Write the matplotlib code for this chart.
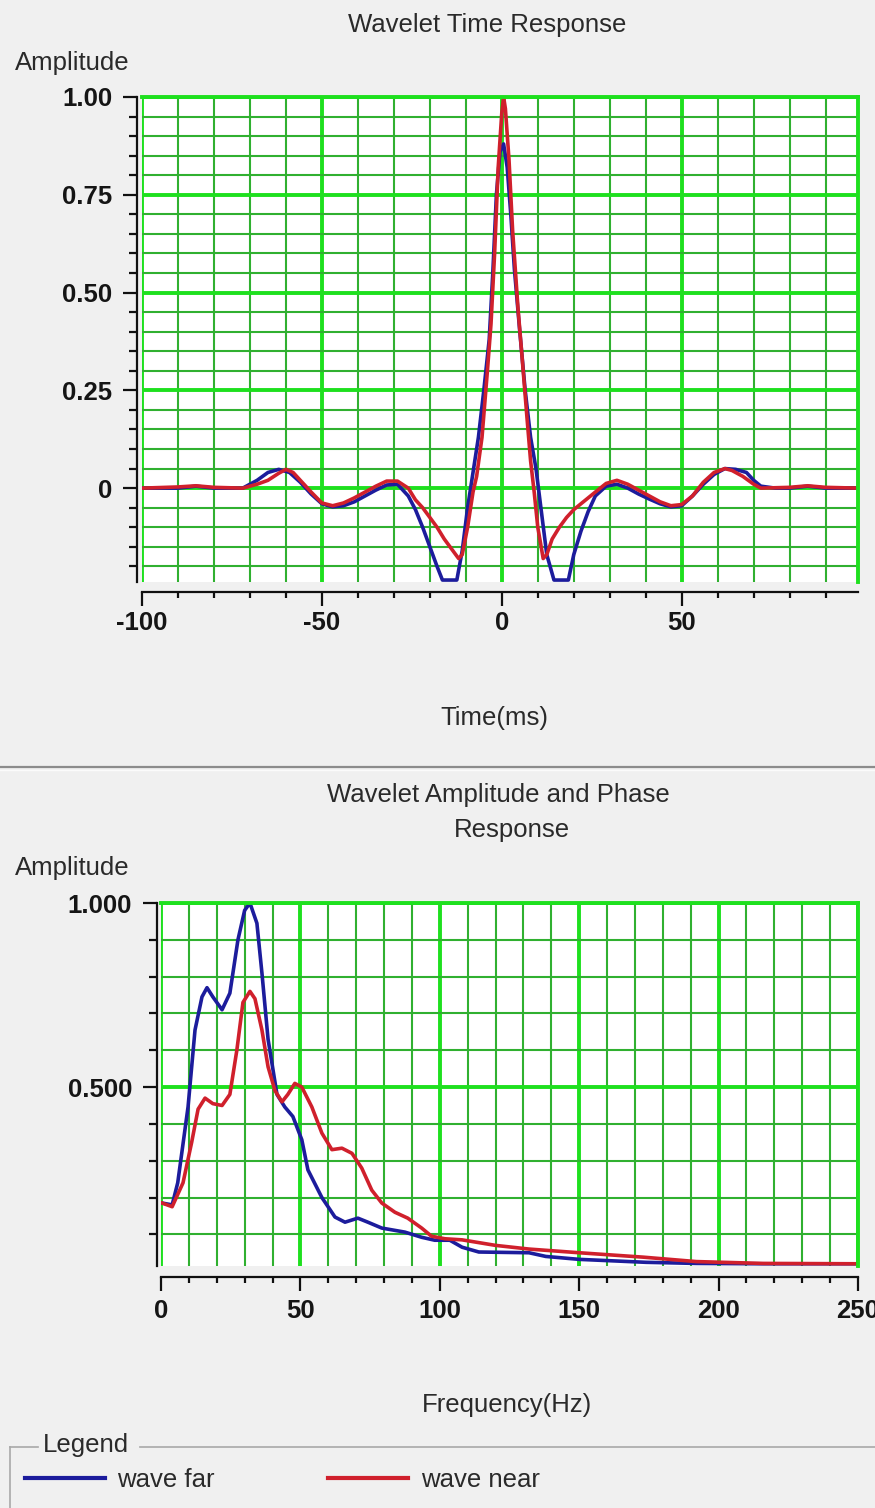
import matplotlib
matplotlib.use('Agg')
from matplotlib import pyplot as plt
from matplotlib.lines import Line2D
from matplotlib.ticker import MultipleLocator, FixedLocator, FixedFormatter

#<editor-fold desc="Data">
# Wavelet time response (ms, amplitude)
farTime = [-100, -90, -85, -80, -72, -68, -65, -62, -59, -56, -53, -50, -47, -44, -41, -38,
           -35, -32, -29, -26, -24, -22, -20, -18, -16.5, -14.5, -12.5, -11, -9.5, -8, -6.5,
           -5, -3.5, -2.5, -1.5, -0.5, 0.5, 1.5, 2.5, 3.5, 5, 6.5, 8, 9.5, 11, 12.5, 14.5,
           16.5, 18.5, 20, 22, 24, 26, 29, 32, 35, 38, 41, 44, 47, 50, 53, 56, 59, 62, 65,
           68, 70, 72, 76, 80, 85, 90, 99]
farAmp = [0.0, 0.0, 0.005, 0.0, 0.0, 0.02, 0.04, 0.048, 0.04, 0.015, -0.015, -0.04, -0.048,
          -0.045, -0.035, -0.02, -0.005, 0.008, 0.01, -0.02, -0.055, -0.1, -0.15, -0.2,
          -0.235, -0.235, -0.235, -0.16, -0.05, 0.04, 0.13, 0.25, 0.38, 0.55, 0.75, 0.86, 0.88,
          0.82, 0.7, 0.56, 0.40, 0.25, 0.13, 0.05, -0.06, -0.17, -0.235, -0.235, -0.235, -0.17,
          -0.11, -0.06, -0.02, 0.005, 0.01, 0.0, -0.015, -0.028, -0.04, -0.048, -0.045,
          -0.02, 0.01, 0.035, 0.05, 0.048, 0.04, 0.02, 0.005, 0.0, 0.0, 0.005, 0.0, 0.0]

nearTime = [-100, -90, -85, -80, -72, -68, -65, -62, -60, -58, -56, -53, -50, -47, -44, -41,
            -38, -35, -32, -29, -26, -24, -22, -20, -18, -16, -14, -12, -11, -9.5, -8, -7,
            -5.5, -4, -3, -2, -1, 0, 0.5, 1, 2, 3, 4.5, 5.5, 7, 8, 9, 10, 11.5, 12.5, 14, 16,
            18, 20, 22, 24, 26, 29, 32, 35, 38, 41, 44, 47, 50, 53, 56, 59, 62, 64, 67, 70,
            72, 80, 85, 90, 99]
nearAmp = [0.0, 0.003, 0.006, 0.002, 0.0, 0.01, 0.02, 0.038, 0.048, 0.04, 0.02, -0.01,
           -0.038, -0.045, -0.038, -0.025, -0.01, 0.005, 0.018, 0.018, 0.0, -0.03, -0.05,
           -0.075, -0.1, -0.13, -0.155, -0.18, -0.17, -0.1, -0.01, 0.03, 0.13, 0.3, 0.42,
           0.6, 0.82, 0.96, 1.0, 0.97, 0.84, 0.66, 0.46, 0.35, 0.18, 0.07, -0.01, -0.1,
           -0.18, -0.17, -0.13, -0.1, -0.075, -0.055, -0.04, -0.025, -0.01, 0.012, 0.02,
           0.01, -0.005, -0.02, -0.035, -0.045, -0.042, -0.02, 0.015, 0.04, 0.05, 0.045,
           0.03, 0.01, 0.0, 0.002, 0.006, 0.002, 0.0]

# Amplitude spectrum (Hz, amplitude)
freqFar = [0.4, 4, 6, 9.7, 12.2, 14.7, 16.5, 18.6, 21.9, 24.7, 27.6, 30, 31.9, 34.4, 36.2,
           38.4, 41.6, 44.4, 47.3, 50.5, 52.7, 57.7, 62.4, 66, 70.6, 74.2, 79.2, 87.5, 93.5,
           98.2, 103.6, 108, 114, 132, 138, 150, 174, 192, 216, 250]
specFar = [0.185, 0.18, 0.24, 0.446, 0.655, 0.745, 0.77, 0.745, 0.71, 0.755, 0.9, 0.98,
           1.0, 0.945, 0.81, 0.63, 0.48, 0.446, 0.42, 0.357, 0.275, 0.2, 0.147, 0.133,
           0.144, 0.133, 0.117, 0.106, 0.092, 0.084, 0.084, 0.065, 0.052, 0.05, 0.04, 0.032,
           0.024, 0.021, 0.02, 0.02]

freqNear = [0.4, 4, 7.9, 11, 13.3, 15.8, 18.6, 21.9, 24.7, 27.2, 29.4, 31.9, 33.7, 36.2,
            38.4, 40.9, 43.4, 45.5, 48, 50.5, 54.1, 57.7, 61.3, 64.9, 68.5, 72, 75.6, 79.2,
            83.9, 88.5, 93.5, 97, 101.8, 108, 120, 132, 150, 173, 192, 216, 250]
specNear = [0.185, 0.175, 0.24, 0.35, 0.44, 0.47, 0.455, 0.45, 0.48, 0.6, 0.73, 0.76, 0.74,
            0.655, 0.555, 0.49, 0.46, 0.48, 0.51, 0.5, 0.446, 0.375, 0.33, 0.334, 0.32,
            0.28, 0.22, 0.185, 0.16, 0.144, 0.117, 0.095, 0.088, 0.085, 0.07, 0.06, 0.05,
            0.038, 0.026, 0.021, 0.02]

timeTicks = [-100, -50, 0, 50]
timeTickLabels = ['-100', '-50', '0', '50']
ampTicks = [0, 0.25, 0.5, 0.75, 1.0]
ampTickLabels = ['0', '0.25', '0.50', '0.75', '1.00']
freqTicks = [0, 50, 100, 150, 200, 250]
freqTickLabels = ['0', '50', '100', '150', '200', '250']
specTicks = [0.5, 1.0]
specTickLabels = ['0.500', '1.000']
#</editor-fold>

#<editor-fold desc="Set Up's">
W, H = 875, 1508
BG = '#f0f0f0'
BLUE = '#1c1c9c'
RED = '#d0202c'
GRID_MAJOR = '#1ee01e'
GRID_MINOR = '#30b030'
FS = 18.5
LW = 2.6

plt.rcParams['font.family'] = ['Liberation Sans', 'DejaVu Sans']
plt.rcParams['figure.facecolor'] = BG


def fx(x):
    return x / W


def fy(y):
    return 1 - y / H


def styleAxes(ax, xTicks, xLabels, xMinor, yTicks, yLabels, yMinor, leftOff, botOff):
    ax.set_facecolor('white')
    ax.set_axisbelow(True)
    ax.xaxis.set_major_locator(FixedLocator(xTicks))
    ax.xaxis.set_major_formatter(FixedFormatter(xLabels))
    ax.xaxis.set_minor_locator(MultipleLocator(xMinor))
    ax.yaxis.set_major_locator(FixedLocator(yTicks))
    ax.yaxis.set_major_formatter(FixedFormatter(yLabels))
    ax.yaxis.set_minor_locator(MultipleLocator(yMinor))
    ax.grid(which='minor', color=GRID_MINOR, linewidth=1.5)
    ax.grid(which='major', color=GRID_MAJOR, linewidth=2.8)
    ax.spines['left'].set_position(('outward', leftOff))
    ax.spines['bottom'].set_position(('outward', botOff))
    for s in ['left', 'bottom']:
        ax.spines[s].set_linewidth(1.6)
        ax.spines[s].set_color('#101010')
    for s in ['top', 'right']:
        ax.spines[s].set_color(GRID_MAJOR)
        ax.spines[s].set_linewidth(2.8)
    ax.tick_params(axis='both', which='both', direction='out', color='#101010', width=1.6,
                   labelsize=FS, labelcolor='#151515')
    ax.tick_params(axis='x', which='major', length=10, pad=4)
    ax.tick_params(axis='x', which='minor', length=4)
    ax.tick_params(axis='y', which='major', length=10, pad=8)
    ax.tick_params(axis='y', which='minor', length=5.5)
    for lab in ax.get_xticklabels() + ax.get_yticklabels():
        lab.set_fontweight('bold')
#</editor-fold>

fig = plt.figure(figsize=(W / 100, H / 100), dpi=100)

# Top plot: time response
ax1 = fig.add_axes([fx(142), fy(582), fx(716), 485 / H])
ax1.plot(farTime, farAmp, color=BLUE, linewidth=LW, label='wave far')
ax1.plot(nearTime, nearAmp, color=RED, linewidth=LW, label='wave near')
ax1.set_xlim(-100, 99)
ax1.set_ylim(-0.24, 1.0)
styleAxes(ax1, timeTicks, timeTickLabels, 10, ampTicks, ampTickLabels, 0.05, 3.6, 7.2)

# Bottom plot: amplitude spectrum
ax2 = fig.add_axes([fx(161), fy(1266), fx(697), 363 / H])
ax2.plot(freqFar, specFar, color=BLUE, linewidth=LW)
ax2.plot(freqNear, specNear, color=RED, linewidth=LW)
ax2.set_xlim(0, 250)
ax2.set_ylim(0.014, 1.0)
styleAxes(ax2, freqTicks, freqTickLabels, 10, specTicks, specTickLabels, 0.1, 2.9, 7.9)
ax2.tick_params(axis='x', which='major', pad=6)

# Texts
txt = dict(fontsize=FS, color='#2a2a2a', va='center')
fig.text(fx(487), fy(25), 'Wavelet Time Response', ha='center', **txt)
fig.text(fx(15), fy(63), 'Amplitude', ha='left', **txt)
fig.text(fx(494), fy(718), 'Time(ms)', ha='center', **txt)
fig.text(fx(498), fy(795), 'Wavelet Amplitude and Phase', ha='center', **txt)
fig.text(fx(512), fy(830), 'Response', ha='center', **txt)
fig.text(fx(15), fy(868), 'Amplitude', ha='left', **txt)
fig.text(fx(507), fy(1405), 'Frequency(Hz)', ha='center', **txt)

# Panel separator
fig.add_artist(Line2D([0, 1], [fy(767), fy(767)], transform=fig.transFigure,
                      color='#8c8c8c', linewidth=1.6))
fig.add_artist(Line2D([0, 1], [fy(769.5), fy(769.5)], transform=fig.transFigure,
                      color='#fbfbfb', linewidth=1.0))

# Legend group box
boxColor = '#a8a8a8'
fig.add_artist(Line2D([fx(10), fx(38)], [fy(1447), fy(1447)], transform=fig.transFigure,
                      color=boxColor, linewidth=1.2))
fig.add_artist(Line2D([fx(140), 1], [fy(1447), fy(1447)], transform=fig.transFigure,
                      color=boxColor, linewidth=1.2))
fig.add_artist(Line2D([fx(10), fx(10)], [fy(1447), 0], transform=fig.transFigure,
                      color=boxColor, linewidth=1.2))
fig.text(fx(43), fy(1445), 'Legend', ha='left', **txt)

handles, labels = ax1.get_legend_handles_labels()
fig.legend(handles, labels, loc='center left', bbox_to_anchor=(fx(25), fy(1480)),
           ncol=2, frameon=False, fontsize=FS, handlelength=3.1, handletextpad=0.5,
           columnspacing=4.4, borderpad=0, borderaxespad=0, labelcolor='#2a2a2a')
for line in fig.legends[0].get_lines():
    line.set_linewidth(3.0)

fig.savefig('out.png', dpi=100, facecolor=BG)
